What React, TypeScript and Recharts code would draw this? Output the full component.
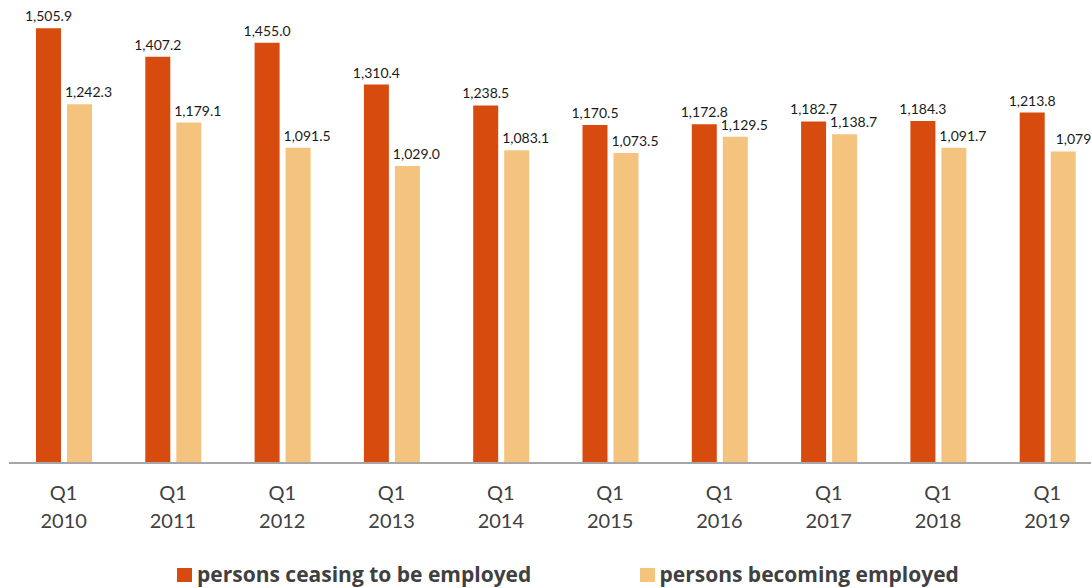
import { BarChart, Bar, XAxis, YAxis, Legend, LabelList } from 'recharts'

const quarters = ['Q1', 'Q1', 'Q1', 'Q1', 'Q1', 'Q1', 'Q1', 'Q1', 'Q1', 'Q1']
const years = ['2010', '2011', '2012', '2013', '2014', '2015', '2016', '2017', '2018', '2019']
const ceasing = [1505.9, 1407.2, 1455.0, 1310.4, 1238.5, 1170.5, 1172.8, 1182.7, 1184.3, 1213.8]
const becoming = [1242.3, 1179.1, 1091.5, 1029.0, 1083.1, 1073.5, 1129.5, 1138.7, 1091.7, 1079.0]

const ORANGE = '#D84B0E'
const SAND = '#F4C47F'
const FONT = 'Lato, "Open Sans", sans-serif'

const data = years.map((y, i) => ({
  label: `${quarters[i]} ${y}`,
  quarter: quarters[i],
  year: y,
  ceasing: ceasing[i],
  becoming: becoming[i],
}))

const fmt = (v: number) =>
  v.toLocaleString('en-US', { minimumFractionDigits: 1, maximumFractionDigits: 1 })

function YearTick({ x, y, index }: any) {
  return (
    <text x={x} y={y} textAnchor="middle" fontFamily={FONT} fontSize={20} fill="#404040">
      <tspan x={x} dy={37}>{quarters[index]}</tspan>
      <tspan x={x} dy={28}>{years[index]}</tspan>
    </text>
  )
}

const valueLabel = (shift: number, lastShift: number) => (props: any) => {
  const { x, y, width, value, index } = props
  const dx = index === years.length - 1 ? lastShift : shift
  return (
    <text
      x={Number(x) + Number(width) / 2 + dx}
      y={Number(y) - 7}
      textAnchor="middle"
      fontFamily={FONT}
      fontSize={14}
      fill="#1a1a1a"
    >
      {fmt(Number(value))}
    </text>
  )
}

function LegendBox() {
  const items = [
    { name: 'persons ceasing to be employed', color: ORANGE },
    { name: 'persons becoming employed', color: SAND },
  ]
  return (
    <div style={{ display: 'flex', height: 28, paddingLeft: 168, paddingTop: 0, boxSizing: 'border-box', fontFamily: '"Open Sans", sans-serif' }}>
      {items.map(it => (
        <div key={it.name} style={{ display: 'flex', alignItems: 'baseline', width: 477, lineHeight: '28px' }}>
          <span style={{ width: 15, height: 14, background: it.color, marginRight: 5, display: 'block' }} />
          <span style={{ fontSize: 21, fontWeight: 700, color: '#404040' }}>{it.name}</span>
        </div>
      ))}
    </div>
  )
}

export default function App() {
  return (
    <div style={{ position: 'absolute', left: 9, top: 0, width: 1082, height: 588, overflow: 'hidden', background: '#fff' }}>
      <BarChart
        width={1093}
        height={588}
        data={data}
        margin={{ top: 1, right: 0, left: 0, bottom: 0 }}
        barSize={25}
        barGap={6}
      >
        <XAxis
          dataKey="label"
          interval={0}
          height={97}
          tickLine={false}
          tickSize={0}
          tickMargin={0}
          axisLine={{ stroke: '#a6a6a6', strokeWidth: 2 }}
          tick={<YearTick />}
        />
        <YAxis hide domain={[0, 1600]} />
        <Legend verticalAlign="bottom" height={28} content={() => <LegendBox />} />
        <Bar dataKey="ceasing" name="persons ceasing to be employed" fill={ORANGE} isAnimationActive={false}>
          <LabelList dataKey="ceasing" content={valueLabel(0, 0)} />
        </Bar>
        <Bar dataKey="becoming" name="persons becoming employed" fill={SAND} isAnimationActive={false}>
          <LabelList dataKey="becoming" content={valueLabel(9, 16)} />
        </Bar>
      </BarChart>
    </div>
  )
}
